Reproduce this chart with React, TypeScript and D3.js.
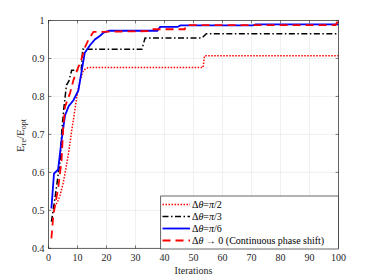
import React from "react";
import * as d3 from "d3";

const xTicks = [0, 10, 20, 30, 40, 50, 60, 70, 80, 90, 100];
const yTicks = [0.4, 0.5, 0.6, 0.7, 0.8, 0.9, 1];
const yTickLabels = ["0.4", "0.5", "0.6", "0.7", "0.8", "0.9", "1"];

const itPi2 = [2, 3, 4, 5, 6, 7, 8, 9, 10, 11, 12, 13, 14, 53.3, 53.8, 100];
const valPi2 = [0.51, 0.52, 0.54, 0.57, 0.61, 0.655, 0.71, 0.76, 0.81, 0.845, 0.868, 0.874, 0.876, 0.876, 0.907, 0.907];

const itPi3 = [1, 2, 3, 4, 4.6, 5.3, 6.2, 7, 8, 11.3, 11.8, 32.2, 33.3, 52.9, 54.4, 100];
const valPi3 = [0.47, 0.52, 0.575, 0.63, 0.71, 0.77, 0.83, 0.84, 0.869, 0.87, 0.924, 0.924, 0.954, 0.954, 0.965, 0.965];

const itPi6 = [1, 1.9, 3.3, 4.5, 5.7, 7, 8.6, 10.3, 11.5, 12.5, 14.3, 16, 17.8, 19, 21, 37.5, 38.5, 44.5, 45.5, 70.5, 71.5, 100];
const valPi6 = [0.505, 0.597, 0.607, 0.685, 0.75, 0.775, 0.79, 0.816, 0.87, 0.915, 0.935, 0.95, 0.96, 0.968, 0.973, 0.973, 0.983, 0.983, 0.987, 0.987, 0.99, 0.99];

const itCont = [1, 1.7, 2.2, 3.4, 4.5, 5.1, 5.7, 7.4, 8.6, 10.3, 10.9, 12.6, 13.7, 15.5, 35, 35.5, 47, 47.5, 99, 99.5, 100];
const valCont = [0.426, 0.49, 0.51, 0.562, 0.632, 0.72, 0.773, 0.808, 0.843, 0.878, 0.887, 0.93, 0.948, 0.97, 0.972, 0.977, 0.977, 0.988, 0.988, 0.995, 0.995];

const legendLabels = ["π/2", "π/3", "π/6", "cont"];

const W = 374, H = 280;
const L = 48.5, R = 338.5, T = 20.5, B = 248.3;
const axisColor = "#262626";
const font = "Liberation Serif, serif";

export default function App() {
  const x = d3.scaleLinear().domain([0, 100]).range([L, R]);
  const y = d3.scaleLinear().domain([0.4, 1]).range([B, T]);
  const line = d3.line<[number, number]>().x(d => x(d[0])).y(d => y(d[1]));
  const mk = (its: number[], vals: number[]) => line(its.map((t, i) => [t, vals[i]] as [number, number])) || "";

  const series = [
    { d: mk(itPi2, valPi2), color: "#ff0000", dash: "1.5,1.5", w: 1.5 },
    { d: mk(itPi3, valPi3), color: "#000000", dash: "6,2.5,1.5,2.5", w: 1.5 },
    { d: mk(itPi6, valPi6), color: "#0000ff", dash: "none", w: 1.8 },
    { d: mk(itCont, valCont), color: "#ff0000", dash: "8,5", w: 1.8 },
  ];

  const lgX = 160.7, lgY = 196, lgW = R - 160.7, lgH = 53;
  const rowY = [204.5, 216.5, 228.5, 240.5];

  const legendText = (i: number) => {
    if (i < 3) {
      const frac = ["π/2", "π/3", "π/6"][i];
      return (
        <>
          <tspan>Δ</tspan><tspan fontStyle="italic">θ</tspan><tspan>=</tspan>
          <tspan fontStyle="italic">π</tspan><tspan>{frac.slice(1)}</tspan>
        </>
      );
    }
    return (
      <>
        <tspan>Δ</tspan><tspan fontStyle="italic">θ</tspan><tspan> → 0 (Continuous phase shift)</tspan>
      </>
    );
  };

  return (
    <svg width={W} height={H} style={{ position: "absolute", left: 0, top: 0, background: "#fff", fontFamily: font }}>
      <rect x={0} y={0} width={W} height={H} fill="#fff" />
      {xTicks.map(t => (
        <line key={"gx" + t} x1={x(t)} x2={x(t)} y1={T} y2={B} stroke="#e6e6e6" strokeWidth={0.6} />
      ))}
      {yTicks.map(t => (
        <line key={"gy" + t} x1={L} x2={R} y1={y(t)} y2={y(t)} stroke="#e6e6e6" strokeWidth={0.6} />
      ))}
      <defs>
        <clipPath id="clip"><rect x={L} y={T - 2} width={R - L + 2} height={B - T + 2} /></clipPath>
      </defs>
      <g clipPath="url(#clip)">
        {series.map((s, i) => (
          <path key={i} d={s.d} fill="none" stroke={s.color} strokeWidth={s.w} strokeDasharray={s.dash} />
        ))}
      </g>
      <rect x={L} y={T} width={R - L} height={B - T} fill="none" stroke={axisColor} strokeWidth={0.7} />
      {xTicks.map(t => (
        <g key={"tx" + t}>
          <line x1={x(t)} x2={x(t)} y1={B} y2={B - 2.9} stroke={axisColor} strokeWidth={0.6} />
          <line x1={x(t)} x2={x(t)} y1={T} y2={T + 2.9} stroke={axisColor} strokeWidth={0.6} />
          <text x={x(t)} y={B + 13} fontSize={10} textAnchor="middle" fill={axisColor}>{t}</text>
        </g>
      ))}
      {yTicks.map((t, i) => (
        <g key={"ty" + t}>
          <line x1={L} x2={L + 2.9} y1={y(t)} y2={y(t)} stroke={axisColor} strokeWidth={0.6} />
          <line x1={R} x2={R - 2.9} y1={y(t)} y2={y(t)} stroke={axisColor} strokeWidth={0.6} />
          <text x={L - 4} y={y(t) + 3.5} fontSize={10} textAnchor="end" fill={axisColor}>{yTickLabels[i]}</text>
        </g>
      ))}
      <text x={(L + R) / 2} y={274} fontSize={10} textAnchor="middle" fill={axisColor}>Iterations</text>
      <text transform={`translate(24, ${(T + B) / 2 + 1}) rotate(-90)`} fontSize={11} textAnchor="middle" fill={axisColor}>
        <tspan>E</tspan><tspan fontSize={8} dy={2}>re</tspan><tspan dy={-2}>/E</tspan><tspan fontSize={8} dy={2}>opt</tspan>
      </text>
      <rect x={lgX} y={lgY} width={lgW} height={lgH} fill="#fff" stroke={axisColor} strokeWidth={0.7} />
      {series.map((s, i) => (
        <g key={"lg" + legendLabels[i]}>
          <line x1={162.5} x2={190} y1={rowY[i]} y2={rowY[i]} stroke={s.color} strokeWidth={s.w} strokeDasharray={s.dash} />
          <text x={192} y={rowY[i] + 3.5} fontSize={10} fill="#000">{legendText(i)}</text>
        </g>
      ))}
    </svg>
  );
}
